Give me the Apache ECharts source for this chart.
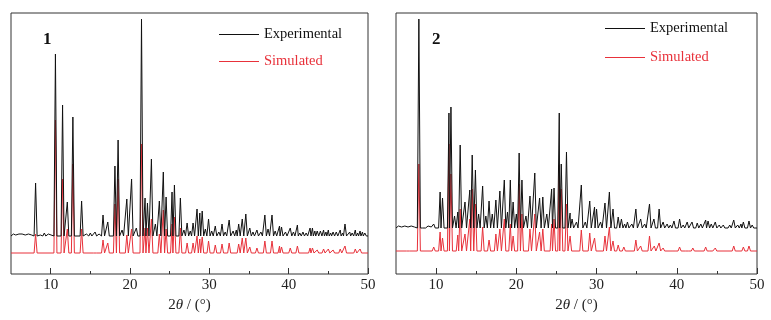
<!DOCTYPE html>
<html>
<head>
<meta charset="utf-8">
<script src="https://cdn.jsdelivr.net/npm/echarts@6/dist/echarts.min.js"></script>
<style>
  html, body { margin: 0; padding: 0; background: #fff; }
  #chart { width: 771px; height: 320px; }
</style>
</head>
<body>
<div id="chart"></div>
<script>
// x range of both patterns (2theta, degrees)
var thetaMin = 5;
var thetaMax = 50;
var majorTicks = [10, 20, 30, 40, 50];
var minorTicks = [15, 25, 35, 45];

// ---- compound 1 ----
var exp1Baseline = 38;
var exp1Pos = [5.3, 5.6, 6.0, 6.4, 6.8, 7.2, 7.6, 8.1, 8.7, 9.2, 9.7, 10.6, 11.5, 12.1, 12.8, 13.9, 14.5, 15.0, 15.6, 16.1, 16.6, 17.2, 18.1, 18.5, 19.0, 19.6, 20.2, 20.8, 21.45, 21.9, 22.2, 22.7, 23.2, 23.7, 24.2, 24.55, 25.3, 25.6, 26.35, 26.8, 27.2, 27.6, 27.95, 28.45, 28.8, 29.1, 29.5, 29.9, 30.3, 30.75, 31.2, 31.6, 32.0, 32.5, 33.0, 33.4, 33.7, 34.15, 34.6, 35.1, 35.5, 36.0, 36.5, 37.0, 37.4, 37.9, 38.3, 38.85, 39.1, 39.6, 40.2, 40.6, 41.1, 41.4, 41.8, 42.2, 42.7, 43.0, 43.3, 43.6, 44.0, 44.4, 44.7, 45.0, 45.3, 45.6, 46.0, 46.5, 46.8, 47.1, 47.7, 48.0, 48.4, 48.7, 49.0, 49.3, 49.6];
var exp1Height = [40, 39, 40, 40, 39, 40, 39, 91, 39, 41, 40, 220, 169, 72, 157, 73, 40, 41, 42, 40, 59, 52, 108, 134, 44, 75, 95, 46, 255, 76, 71, 115, 50, 73, 102, 77, 82, 89, 76, 44, 51, 43, 51, 65, 61, 63, 45, 55, 43, 48, 42, 50, 42, 54, 43, 44, 50, 55, 60, 46, 42, 44, 42, 59, 45, 59, 43, 48, 47, 42, 46, 42, 49, 41, 42, 41, 46, 46, 43, 43, 43, 44, 42, 44, 41, 42, 42, 44, 41, 50, 42, 41, 44, 41, 43, 42, 41];

var sim1Baseline = 21;
var sim1Pos = [8.1, 10.6, 11.5, 12.1, 12.8, 13.9, 15.6, 16.6, 17.2, 18.1, 18.5, 19.6, 20.2, 21.45, 21.9, 22.2, 22.7, 23.7, 24.2, 24.55, 25.3, 25.6, 26.35, 27.2, 27.95, 28.45, 28.8, 29.1, 29.9, 30.75, 31.6, 32.5, 33.7, 34.15, 34.6, 35.1, 36.0, 37.0, 37.9, 38.85, 39.1, 40.2, 41.1, 42.7, 43.0, 43.6, 44.4, 45.0, 45.6, 46.5, 47.1, 48.4, 49.0];
var sim1Height = [40, 154, 95, 45, 110, 45, 23, 34, 31, 70, 95, 39, 45, 130, 46, 46, 55, 40, 64, 45, 50, 57, 46, 31, 31, 38, 35, 37, 33, 29, 30, 31, 30, 36, 36, 27, 26, 33, 33, 28, 27, 26, 28, 26, 26, 24, 25, 25, 24, 25, 28, 25, 25];

// ---- compound 2 ----
var exp2Baseline = 46;
var exp2Pos = [5.3, 5.7, 6.1, 6.5, 6.9, 7.3, 7.85, 8.5, 9.0, 9.4, 9.7, 10.5, 10.8, 11.6, 11.85, 12.3, 12.7, 13.0, 13.6, 14.2, 14.5, 14.9, 15.3, 15.8, 16.2, 16.6, 17.0, 17.45, 17.95, 18.5, 18.9, 19.25, 19.6, 20.0, 20.35, 20.7, 21.2, 21.7, 22.3, 22.9, 23.3, 23.8, 24.4, 24.7, 25.35, 25.6, 26.25, 26.7, 26.95, 27.5, 28.1, 28.6, 29.15, 29.75, 30.0, 30.5, 31.05, 31.6, 32.05, 32.7, 33.1, 33.5, 33.85, 34.4, 34.9, 35.5, 36.0, 36.6, 37.15, 37.8, 38.3, 38.8, 39.2, 39.65, 40.35, 40.8, 41.3, 41.9, 42.55, 43.0, 43.6, 43.9, 44.3, 44.8, 45.3, 45.8, 46.2, 46.6, 47.1, 47.6, 48.0, 48.3, 49.0, 49.4];
var exp2Height = [48, 47, 48, 47, 48, 47, 255, 47, 48, 47, 50, 82, 76, 161, 167, 58, 62, 129, 72, 84, 119, 104, 60, 88, 58, 73, 60, 74, 83, 94, 62, 94, 72, 60, 121, 94, 58, 78, 101, 76, 77, 60, 85, 86, 161, 110, 122, 61, 55, 52, 89, 52, 73, 67, 65, 52, 71, 82, 65, 57, 55, 50, 52, 50, 65, 55, 50, 70, 55, 65, 52, 50, 49, 53, 55, 49, 52, 52, 51, 50, 54, 53, 50, 52, 49, 49, 48, 49, 54, 49, 50, 52, 53, 49];

var sim2Baseline = 23;
var sim2Pos = [6.5, 7.85, 9.7, 10.5, 10.8, 11.6, 11.85, 12.7, 13.0, 13.6, 14.2, 14.5, 14.9, 15.8, 16.6, 17.45, 17.95, 18.5, 19.25, 19.6, 20.35, 20.7, 21.7, 22.3, 22.9, 23.3, 24.4, 24.7, 25.35, 25.6, 26.25, 26.7, 28.1, 29.15, 29.75, 31.05, 31.6, 32.05, 32.7, 33.4, 34.9, 35.5, 36.6, 37.2, 37.8, 38.3, 39.6, 40.35, 41.3, 42.0, 43.6, 44.3, 44.8, 47.1, 48.3, 49.0];
var sim2Height = [25, 110, 27, 42, 36, 130, 100, 39, 65, 40, 55, 85, 70, 47, 34, 40, 45, 55, 50, 38, 90, 60, 45, 60, 42, 45, 50, 55, 109, 85, 70, 38, 44, 41, 36, 38, 47, 33, 29, 27, 34, 28, 38, 28, 31, 26, 25, 27, 25, 26, 27, 25, 26, 28, 27, 28];

// build polyline points for a pattern from its peak list
function buildTrace(pos, height, base) {
  var hw = 0.19;
  var pts = [[thetaMin, base], [thetaMax, base]];
  for (var i = 0; i < pos.length; i++) {
    pts.push([pos[i] - hw, base]);
    pts.push([pos[i], height[i]]);
    pts.push([pos[i] + hw, base]);
  }
  pts.sort(function(a, b){ return a[0] - b[0]; });
  return pts;
}

var serif = '"Liberation Serif", "DejaVu Serif", serif';
var black = '#111111';
var red = '#e8313a';

function mainX(grid) {
  return {
    gridIndex: grid, type: 'value', min: thetaMin, max: thetaMax,
    axisLine: { show: false },
    splitLine: { show: false },
    axisTick: { inside: true, length: 6, customValues: majorTicks, lineStyle: { color: '#333' } },
    axisLabel: { customValues: majorTicks, fontFamily: serif, fontSize: 15, color: '#222', margin: 4 },
    name: '2{i|θ} / (°)',
    nameLocation: 'middle', nameGap: 21,
    nameTextStyle: { fontFamily: serif, fontSize: 15, color: '#222', rich: { i: { fontFamily: serif, fontStyle: 'italic', fontSize: 15, color: '#222' } } }
  };
}
function minorX(grid) {
  return {
    gridIndex: grid, type: 'value', min: thetaMin, max: thetaMax, position: 'bottom',
    axisLine: { show: false }, splitLine: { show: false }, axisLabel: { show: false },
    axisTick: { inside: true, length: 3, customValues: minorTicks, lineStyle: { color: '#333' } }
  };
}
function hiddenY(grid) {
  return { gridIndex: grid, type: 'value', min: 0, max: 261, show: false };
}
function legendAt(left, top, gap) {
  return {
    left: left, top: top, orient: 'vertical', icon: 'rect',
    itemWidth: 40, itemHeight: 1, itemGap: gap, selectedMode: false,
    textStyle: { fontFamily: serif, fontSize: 14.5 },
    data: [
      { name: 'Experimental', textStyle: { color: black } },
      { name: 'Simulated', textStyle: { color: red } }
    ]
  };
}
function trace(name, color, xi, yi, pts) {
  return {
    name: name, type: 'line', xAxisIndex: xi, yAxisIndex: yi,
    data: pts, showSymbol: false, symbol: 'none', color: color,
    lineStyle: { width: 1, color: color }, silent: true
  };
}

var chart = echarts.init(document.getElementById('chart'));
chart.setOption({
  animation: false,
  backgroundColor: '#fff',
  grid: [
    { left: 11, right: 403, top: 13, bottom: 46, show: true, borderColor: '#333', borderWidth: 1 },
    { left: 396, right: 14, top: 13, bottom: 46, show: true, borderColor: '#333', borderWidth: 1 }
  ],
  xAxis: [mainX(0), minorX(0), mainX(1), minorX(1)],
  yAxis: [hiddenY(0), hiddenY(1)],
  legend: [legendAt(214, 22, 12), legendAt(600, 16, 14)],
  graphic: [
    { type: 'text', left: 43, top: 31, style: { text: '1', font: 'bold 17px ' + serif, fill: '#111' } },
    { type: 'text', left: 432, top: 31, style: { text: '2', font: 'bold 17px ' + serif, fill: '#111' } }
  ],
  series: [
    trace('Simulated', red, 0, 0, buildTrace(sim1Pos, sim1Height, sim1Baseline)),
    trace('Experimental', black, 0, 0, buildTrace(exp1Pos, exp1Height, exp1Baseline)),
    trace('Simulated', red, 2, 1, buildTrace(sim2Pos, sim2Height, sim2Baseline)),
    trace('Experimental', black, 2, 1, buildTrace(exp2Pos, exp2Height, exp2Baseline))
  ]
});
</script>
</body>
</html>
